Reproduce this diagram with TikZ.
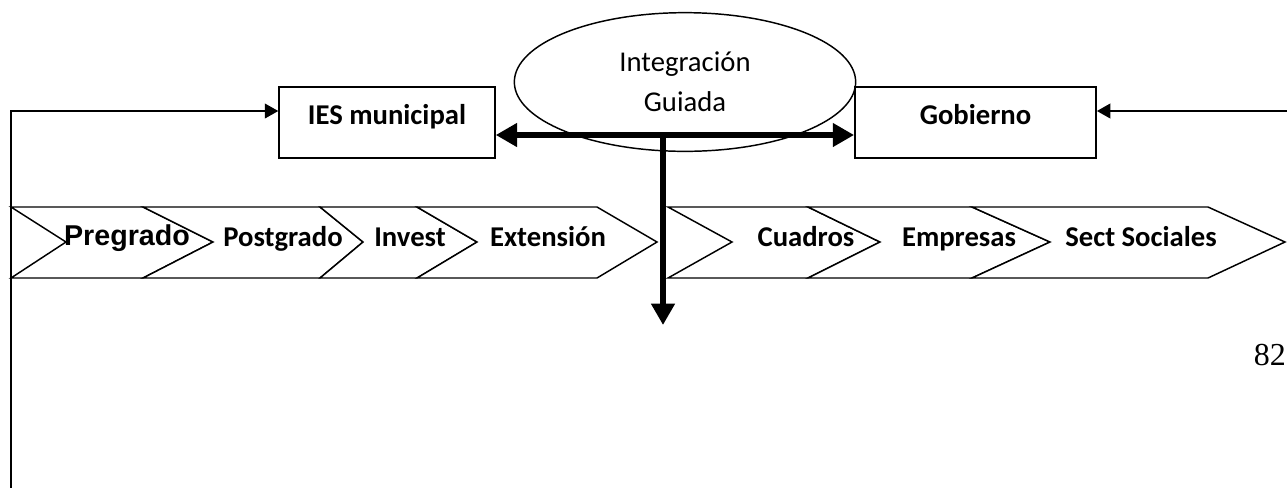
\documentclass[tikz,border=0pt]{standalone}
\usepackage{fontspec}
\setmainfont{Carlito}
\newfontfamily\arialfont{Liberation Sans}
\newfontfamily\timesfont{Liberation Serif}
\usetikzlibrary{arrows.meta,shapes.geometric}
\tikzset{
  caja/.style={draw, line width=1.1pt, minimum width=#1, minimum height=53pt, text height=14pt, text depth=10.5pt, font=\bfseries\fontsize{21.5}{25}\selectfont},
  flecha/.style={line width=1.1pt, -{Triangle[length=10pt,width=11pt]}},
  gruesa/.style={line width=5pt, {Triangle[length=16pt,width=17pt]}-{Triangle[length=16pt,width=17pt]}},
  chevron/.style={draw, fill=white, line width=1.1pt},
  etiq/.style={font=\bfseries\fontsize{21.5}{25}\selectfont, inner sep=0pt, anchor=base}
}
\begin{document}
\begin{tikzpicture}[x=0.75pt,y=-0.75pt]
\useasboundingbox (0,0) rectangle (1287,487);
\foreach \xb/\xn/\xt/\xp in {11/66/143/213, 143/213/320/363, 320/363/417/477, 417/477/597/657, 668/732/808/880, 808/880/972/1050, 972/1050/1208/1285}
  \draw[chevron] (\xb,207) -- (\xt,207) -- (\xp,242) -- (\xt,278) -- (\xb,278) -- (\xn,242) -- cycle;
\node[etiq, font=\arialfont\bfseries\fontsize{21.5}{25}\selectfont] (pre) at (127,245) {Pregrado};
\node[etiq] (pos) at (283,246) {Postgrado};
\node[etiq] (inv) at (410,246) {Invest};
\node[etiq] (ext) at (548,246) {Extensión};
\node[etiq] (cua) at (806,246) {Cuadros};
\node[etiq] (emp) at (959,246) {Empresas};
\node[etiq] (sec) at (1141,246) {Sect Sociales};
\node[caja=162pt] (ies) at (387,122.5) {IES municipal};
\node[caja=181pt] (gob) at (975.5,122.5) {Gobierno};
\node[draw, ellipse, line width=1.1pt, minimum width=256pt, minimum height=104pt, align=center, font=\fontsize{21.5}{30}\selectfont] (ig) at (685,82) {Integración\\Guiada};
\coordinate (tj) at (663,135);
\coordinate (dn) at (663,325);
\coordinate (lb) at (11,492);
\coordinate (ly) at (0,111);
\coordinate (rb) at (1295,111);
\draw[gruesa] (ies.east |- tj) -- (gob.west |- tj);
\draw[line width=5pt, -{Triangle[length=16pt,width=17pt]}] (tj) -- (dn);
\draw[flecha] (lb) |- (ies.west |- ly);
\draw[flecha] (rb) -- (gob.east |- rb);
\node[font=\timesfont\fontsize{24}{28}\selectfont, anchor=base east, inner sep=0pt] (pag) at (1286,365) {82};
\end{tikzpicture}
\end{document}
